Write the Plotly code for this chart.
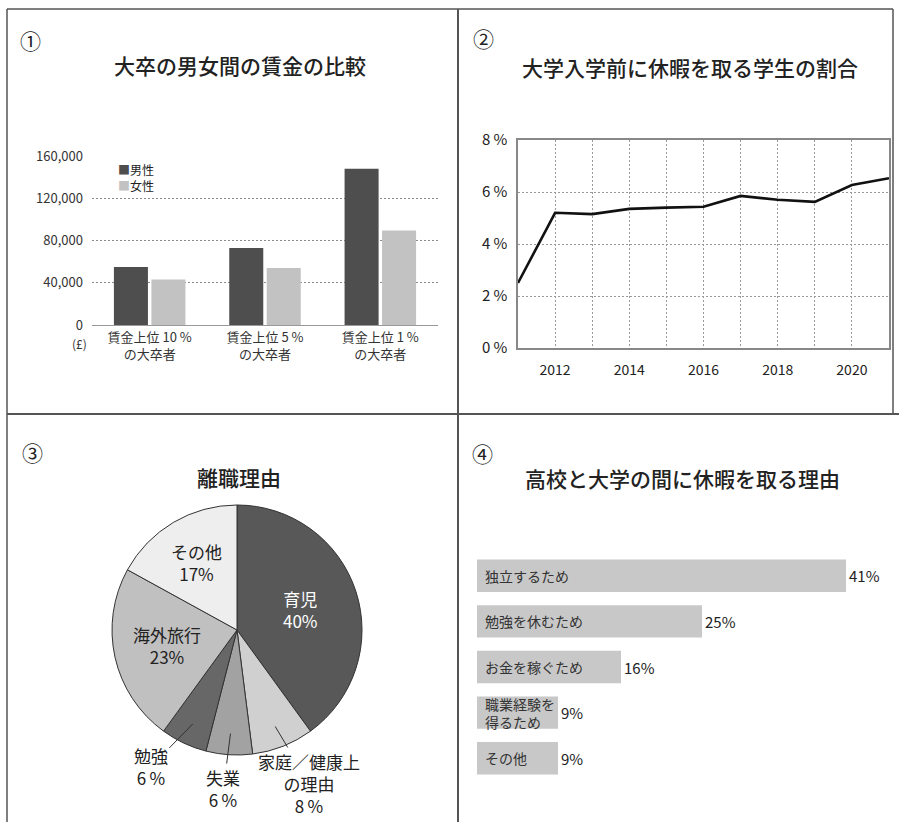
import math
import plotly.graph_objects as go

W, H = 899, 822
FONT = "Noto Sans CJK JP"
INK = "#222222"

# ---------------- data ----------------
wage_categories = ["賃金上位 10 %<br>の大卒者", "賃金上位 5 %<br>の大卒者", "賃金上位 1 %<br>の大卒者"]
wage_series = ["男性", "女性"]
wage_male = [55000, 73000, 148000]
wage_female = [43000, 54000, 89500]
wage_ticks = [0, 40000, 80000, 120000, 160000]

gap_years = [2011, 2012, 2013, 2014, 2015, 2016, 2017, 2018, 2019, 2020, 2021]
gap_share = [2.5, 5.2, 5.15, 5.35, 5.4, 5.43, 5.85, 5.7, 5.62, 6.27, 6.53]

quit_labels = ["育児", "家庭／健康上<br>の理由", "失業", "勉強", "海外旅行", "その他"]
quit_values = [40, 8, 6, 6, 23, 17]

reason_labels = ["独立するため", "勉強を休むため", "お金を稼ぐため", "職業経験を<br>得るため", "その他"]
reason_values = [41, 25, 16, 9, 9]


def px(x):
    return x / W


def py(y):
    return 1 - y / H


male_col, female_col = "#4e4e4e", "#c2c2c2"
fig = go.Figure()

# ---------------- panel 1: grouped bars ----------------
fig.add_trace(go.Bar(
    x=wage_categories, y=wage_male, name=wage_series[0],
    marker=dict(color=male_col, line=dict(width=0)),
    offset=-0.31, width=0.295, xaxis="x", yaxis="y", showlegend=False,
))
fig.add_trace(go.Bar(
    x=wage_categories, y=wage_female, name=wage_series[1],
    marker=dict(color=female_col, line=dict(width=0)),
    offset=0.015, width=0.295, xaxis="x", yaxis="y", showlegend=False,
))

# ---------------- panel 2: line ----------------
fig.add_trace(go.Scatter(
    x=gap_years, y=gap_share, mode="lines",
    line=dict(color="#111111", width=2.6),
    showlegend=False, xaxis="x2", yaxis="y2",
))

# ---------------- panel 3: pie ----------------
pie_cx, pie_cy, pie_r = 237, 630, 125
pie_colors = ["#585858", "#d0d0d0", "#a2a2a2", "#676767", "#c0c0c0", "#eeeeee"]
fig.add_trace(go.Pie(
    labels=quit_labels, values=quit_values, sort=False, direction="clockwise",
    rotation=0, textinfo="none", showlegend=False, automargin=False,
    marker=dict(colors=pie_colors, line=dict(color="#333333", width=1)),
    domain=dict(x=[px(pie_cx - pie_r), px(pie_cx + pie_r)],
                y=[py(pie_cy + pie_r), py(pie_cy - pie_r)]),
))

# ---------------- panel 4: horizontal bars ----------------
fig.add_trace(go.Bar(
    y=reason_labels, x=reason_values, orientation="h",
    marker=dict(color="#c8c8c8", line=dict(width=0)),
    width=0.71,
    text=[f"{v}%" for v in reason_values], textposition="outside",
    textfont=dict(family=FONT, size=15, color=INK),
    cliponaxis=False, showlegend=False, xaxis="x3", yaxis="y3",
))

annotations = []


def ptext(txt, x, y, size, color=INK, weight=None, xanchor="center", align="center"):
    f = dict(family=FONT, size=size, color=color)
    if weight:
        f["weight"] = weight
    annotations.append(dict(text=txt, x=px(x), y=py(y), xref="paper", yref="paper",
                            xanchor=xanchor, yanchor="middle", showarrow=False, font=f,
                            align=align))


# circled numbers and titles
for txt, x, y in [("①", 30, 40), ("②", 483, 38), ("③", 32, 452), ("④", 482, 453)]:
    ptext(txt, x, y, 21)
for txt, x, y in [("大卒の男女間の賃金の比較", 240, 65),
                  ("大学入学前に休暇を取る学生の割合", 690, 67),
                  ("離職理由", 239, 477),
                  ("高校と大学の間に休暇を取る理由", 682, 478)]:
    ptext(txt, x, y, 21, weight=500)

# (£) unit
ptext("(£)", 79, 343, 12, color="#333333")

# legend of panel 1 (one text block)
legend_txt = "<br>".join(f"<span style='color:{c}'>■</span>{n}"
                         for n, c in zip(wage_series, [male_col, female_col]))
ptext(legend_txt, 116, 177.5, 12, xanchor="left", align="left")

# pie labels derived from slice angles
inside_style = {0: (0.53, "white"), 4: (0.57, INK), 5: (0.63, INK)}
outside_style = {1: (34, 57), 2: (-7, 55), 3: (-42, 43)}
total = sum(quit_values)
cum = 0
for i, (lab, v) in enumerate(zip(quit_labels, quit_values)):
    mid = (cum + v / 2) / total * 2 * math.pi
    cum += v
    s, c = math.sin(mid), math.cos(mid)
    if i in inside_style:
        f, col = inside_style[i]
        ptext(f"{lab}<br>{v}%", pie_cx + f * pie_r * s, pie_cy - f * pie_r * c, 17, color=col)
    else:
        ax, ay = outside_style[i]
        annotations.append(dict(
            text=f"{lab}<br>{v}\u2009%", x=px(pie_cx + 0.83 * pie_r * s), y=py(pie_cy - 0.83 * pie_r * c),
            xref="paper", yref="paper", showarrow=True, ax=ax, ay=ay,
            arrowhead=0, arrowwidth=1, arrowcolor="#333333", standoff=0,
            font=dict(family=FONT, size=17, color=INK)))

# bar-4 category names inside bars
for lab in reason_labels:
    annotations.append(dict(text=lab, x=0, y=lab, xref="x3", yref="y3", xanchor="left",
                            yanchor="middle", xshift=6, showarrow=False, align="left",
                            font=dict(family=FONT, size=14, color="#333333")))

# frame lines
line_col = "#555555"
shapes = [
    dict(type="line", xref="paper", yref="paper", x0=px(7), x1=px(893), y0=py(9), y1=py(9),
         line=dict(color=line_col, width=1.5)),
    dict(type="line", xref="paper", yref="paper", x0=px(7), x1=px(7), y0=py(9), y1=py(822),
         line=dict(color=line_col, width=1.5)),
    dict(type="line", xref="paper", yref="paper", x0=px(893), x1=px(893), y0=py(9), y1=py(414),
         line=dict(color=line_col, width=1.5)),
    dict(type="line", xref="paper", yref="paper", x0=px(458), x1=px(458), y0=py(9), y1=py(822),
         line=dict(color=line_col, width=2)),
    dict(type="line", xref="paper", yref="paper", x0=px(7), x1=px(899), y0=py(414), y1=py(414),
         line=dict(color=line_col, width=2)),
]

tickfont = dict(family=FONT, size=13, color="#333333")
GRID_DASH = "2px,2px"

fig.update_layout(
    width=W, height=H, margin=dict(l=0, r=0, t=0, b=0, autoexpand=False),
    paper_bgcolor="white", plot_bgcolor="rgba(0,0,0,0)",
    barmode="overlay",
    font=dict(family=FONT, color=INK),
    showlegend=False,
    xaxis=dict(domain=[px(92), px(438)], range=[-0.5, 2.5], type="category",
               showgrid=False, showline=True, linecolor="#999999", linewidth=1,
               tickfont=tickfont, ticks="", anchor="y", automargin=False),
    yaxis=dict(domain=[py(325), py(156)], range=[0, 160000], tickvals=wage_ticks,
               tickformat=",", showgrid=True, gridcolor="#8a8a8a", griddash=GRID_DASH, gridwidth=1,
               zeroline=False, showline=False, tickfont=tickfont, ticklabelstandoff=8,
               anchor="x", automargin=False),
    xaxis2=dict(domain=[px(518), px(889)], range=[2011, 2021], anchor="y2",
                tickvals=gap_years,
                ticktext=[str(y) if y % 2 == 0 else "" for y in gap_years],
                showgrid=True, gridcolor="#999999", griddash=GRID_DASH, gridwidth=1,
                showline=True, mirror=True, linecolor="#888888", linewidth=1.5,
                ticks="", ticklabelstandoff=8, automargin=False,
                tickfont=dict(family=FONT, size=14, color=INK)),
    yaxis2=dict(domain=[py(348), py(140)], range=[0, 8], dtick=2, anchor="x2",
                ticksuffix="\u2009%", showgrid=True, gridcolor="#999999", griddash=GRID_DASH,
                gridwidth=1, zeroline=False, showline=True, mirror=True,
                linecolor="#888888", linewidth=1.5, ticks="", ticklabelstandoff=6,
                automargin=False, tickfont=dict(family=FONT, size=15, color=INK)),
    xaxis3=dict(domain=[px(477), px(882)], range=[0, 45], anchor="y3", visible=False,
                automargin=False),
    yaxis3=dict(domain=[py(781), py(553)], anchor="x3", autorange="reversed",
                type="category", visible=False, automargin=False),
    annotations=annotations,
    shapes=shapes,
)

fig.write_html("out.html", config={"displayModeBar": False},
               post_script="document.body.style.margin='0';")
